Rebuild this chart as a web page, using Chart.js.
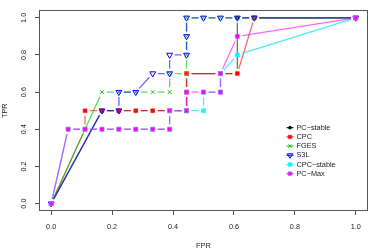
<!DOCTYPE html>
<html>
<head>
<meta charset="utf-8">
<script src="https://cdn.jsdelivr.net/npm/chart.js@4/dist/chart.umd.min.js"></script>
<style>
html,body{margin:0;padding:0;background:#fff;}
#wrap{width:374px;height:251px;position:relative;}
</style>
</head>
<body>
<div id="wrap"><canvas id="c" width="374" height="251"></canvas></div>
<script>
// ---- data (FPR as k/18) ----
const seriesNames = ["PC\u2212stable", "CPC", "FGES", "S3L", "CPC\u2212stable", "PC\u2212Max"];
const seriesColors = ["#000000", "#FF0000", "#00CD00", "#0000FF", "#00FFFF", "#FF00FF"];

const fprPCstable = [0, 0.1667, 0.2222, 0.2778, 0.3333, 0.3889, 0.4444, 0.4444, 0.4444, 0.5556, 0.6111, 0.6111, 0.6667, 1];
const tprPCstable = [0, 0.5, 0.5, 0.5, 0.5, 0.5, 0.5, 0.6, 0.7, 0.7, 0.7, 1, 1, 1];

const fprCPC = [0, 0.1111, 0.1111, 0.1667, 0.2222, 0.2778, 0.3333, 0.3889, 0.4444, 0.4444, 0.4444, 0.5556, 0.6111, 0.6667, 1];
const tprCPC = [0, 0.4, 0.5, 0.5, 0.5, 0.5, 0.5, 0.5, 0.5, 0.6, 0.7, 0.7, 0.7, 1, 1];

const fprFGES = [0, 0.1667, 0.2222, 0.2778, 0.3333, 0.3889, 0.3889, 0.4444, 0.4444, 0.4444, 0.4444, 0.5, 0.5556, 0.6111, 0.6667, 1];
const tprFGES = [0, 0.6, 0.6, 0.6, 0.6, 0.6, 0.7, 0.7, 0.8, 0.9, 1, 1, 1, 1, 1, 1];

const fprS3L = [0, 0.1667, 0.2222, 0.2222, 0.2778, 0.3333, 0.3889, 0.3889, 0.4444, 0.4444, 0.4444, 0.5, 0.5556, 0.6111, 0.6667, 1];
const tprS3L = [0, 0.5, 0.5, 0.6, 0.6, 0.7, 0.7, 0.8, 0.8, 0.9, 1, 1, 1, 1, 1, 1];

const fprCPCstable = [0, 0.0556, 0.1111, 0.1667, 0.2222, 0.2778, 0.3333, 0.3889, 0.3889, 0.4444, 0.5, 0.5, 0.5556, 0.5556, 0.6111, 1];
const tprCPCstable = [0, 0.4, 0.4, 0.4, 0.4, 0.4, 0.4, 0.4, 0.5, 0.5, 0.5, 0.6, 0.6, 0.7, 0.8, 1];

const fprPCMax = [0, 0.0556, 0.1111, 0.1667, 0.2222, 0.2778, 0.3333, 0.3889, 0.3889, 0.4444, 0.4444, 0.5, 0.5556, 0.5556, 0.6111, 1];
const tprPCMax = [0, 0.4, 0.4, 0.4, 0.4, 0.4, 0.4, 0.4, 0.5, 0.5, 0.6, 0.6, 0.6, 0.7, 0.9, 1];

const xTickValues = [0, 0.2, 0.4, 0.6, 0.8, 1.0];
const yTickValues = [0, 0.2, 0.4, 0.6, 0.8, 1.0];
const xTitle = "FPR";
const yTitle = "TPR";

// ---- styling ----
const FONT = "'Liberation Sans', Arial, Helvetica, sans-serif";
const GAP = 5; // R type="b" gap around points
const lineColors = ["rgba(0,0,0,0.55)", "rgba(255,0,0,0.6)", "rgba(0,205,0,0.65)", "rgba(0,0,255,0.6)", "rgba(0,230,230,0.7)", "rgba(255,0,255,0.6)"];
const haloColors = ["rgba(0,0,0,0.5)", "rgba(255,80,80,0.5)", "rgba(0,205,0,0.5)", "rgba(0,0,255,0.9)", "rgba(0,255,255,0.55)", "rgba(170,120,255,0.6)"];
const markers = [
  {pointStyle: 'circle', radius: 1.8, fill: true, rotation: 0, bw: 0.6},
  {pointStyle: 'rect', radius: 2.9, fill: true, rotation: 0, bw: 1},
  {pointStyle: 'crossRot', radius: 2.6, fill: false, rotation: 0, bw: 1},
  {pointStyle: 'triangle', radius: 3.4, fill: false, rotation: 180, bw: 1},
  {pointStyle: 'rect', radius: 2.9, fill: true, rotation: 0, bw: 1},
  {pointStyle: 'rect', radius: 2.9, fill: true, rotation: 0, bw: 1}
];
const xs = [fprPCstable, fprCPC, fprFGES, fprS3L, fprCPCstable, fprPCMax];
const ys = [tprPCstable, tprCPC, tprFGES, tprS3L, tprCPCstable, tprPCMax];

function gapDash(ctx) {
  const p0 = ctx.p0, p1 = ctx.p1;
  const L = Math.hypot(p1.x - p0.x, p1.y - p0.y);
  if (!isFinite(L)) return [];
  if (L <= 2 * GAP + 0.5) return [0.0001, L + 1];
  return [0.0001, GAP, L - 2 * GAP, GAP - 0.0001];
}

const datasets = seriesNames.map((name, i) => ({
  label: name,
  data: xs[i].map((x, j) => ({x: x, y: ys[i][j]})),
  showLine: true,
  borderColor: lineColors[i],
  borderWidth: 1.3,
  borderCapStyle: 'butt',
  pointStyle: markers[i].pointStyle,
  pointRadius: markers[i].radius,
  pointRotation: markers[i].rotation,
  pointBackgroundColor: markers[i].fill ? seriesColors[i] : 'rgba(0,0,0,0)',
  pointBorderColor: markers[i].fill ? haloColors[i] : seriesColors[i],
  pointBorderWidth: markers[i].bw,
  pointHoverRadius: markers[i].radius,
  segment: {borderDash: gapDash},
  order: seriesNames.length - i
}));

const boxPlugin = {
  id: 'rbox',
  afterDraw(chart) {
    const a = chart.chartArea, c = chart.ctx;
    c.save();
    c.strokeStyle = '#555';
    c.lineWidth = 1;
    c.strokeRect(Math.round(a.left) + 0.5, Math.round(a.top) + 0.5, Math.round(a.right - a.left) - 1, Math.round(a.bottom - a.top) - 1);
    c.restore();
  }
};

const legendPlugin = {
  id: 'rlegend',
  afterDraw(chart) {
    const c = chart.ctx;
    const x0 = 286.5, x1 = 293.5, xt = 296.5, y0 = 127.7, dy = 9.2;
    c.save();
    c.font = "7.3px " + FONT;
    c.textBaseline = 'middle';
    c.textAlign = 'left';
    chart.data.datasets.forEach((ds, i) => {
      const y = y0 + i * dy;
      c.strokeStyle = seriesColors[i];
      c.lineWidth = 1;
      c.setLineDash([]);
      c.beginPath(); c.moveTo(x0, y); c.lineTo(x1, y); c.stroke();
      const opts = {pointStyle: ds.pointStyle, radius: ds.pointRadius * 0.9, rotation: ds.pointRotation, borderWidth: ds.pointBorderWidth};
      c.fillStyle = ds.pointBackgroundColor;
      c.strokeStyle = ds.pointBorderColor;
      c.lineWidth = ds.pointBorderWidth;
      Chart.helpers.drawPoint(c, opts, (x0 + x1) / 2, y);
      c.fillStyle = '#222';
      c.fillText(ds.label, xt, y);
    });
    c.restore();
  }
};

new Chart(document.getElementById('c'), {
  type: 'line',
  data: {datasets},
  plugins: [boxPlugin, legendPlugin],
  options: {
    responsive: false,
    animation: false,
    events: [],
    layout: {padding: {left: 0, right: 6, top: 5, bottom: 0}},
    plugins: {legend: {display: false}, tooltip: {enabled: false}},
    scales: {
      x: {
        type: 'linear', min: -0.04, max: 1.04,
        afterBuildTicks: s => { s.ticks = xTickValues.map(v => ({value: v})); },
        afterFit: s => { s.height = 40; },
        grid: {drawOnChartArea: false, drawTicks: true, tickLength: 4, color: '#555'},
        border: {display: false},
        ticks: {padding: 8, color: '#222', font: {family: FONT, size: 7.3}, callback: v => Number(v).toFixed(1), maxRotation: 0, autoSkip: false},
        title: {display: true, text: xTitle, color: '#222', font: {family: FONT, size: 7.4}, padding: {top: 0, bottom: 1}}
      },
      y: {
        type: 'linear', min: -0.04, max: 1.04,
        afterBuildTicks: s => { s.ticks = yTickValues.map(v => ({value: v})); },
        afterFit: s => { s.width = 39; },
        grid: {drawOnChartArea: false, drawTicks: true, tickLength: 4, color: '#555'},
        border: {display: false},
        ticks: {padding: 6, color: '#222', font: {family: FONT, size: 7.3}, callback: v => Number(v).toFixed(1), minRotation: 90, maxRotation: 90, crossAlign: 'center', autoSkip: false},
        title: {display: true, text: yTitle, color: '#222', font: {family: FONT, size: 7.4}, padding: {top: 1, bottom: 0}}
      }
    }
  }
});
</script>
</body>
</html>
